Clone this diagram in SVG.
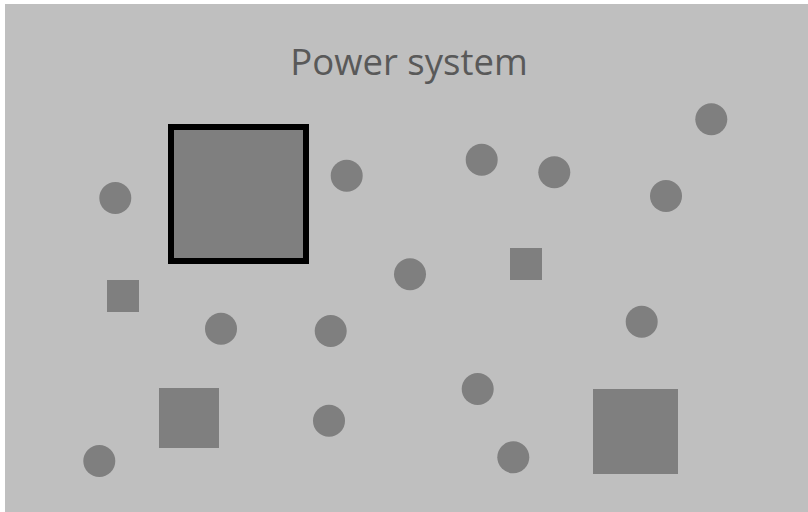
<svg xmlns="http://www.w3.org/2000/svg" width="808" height="512" viewBox="0 0 808 512">
<style>
.n{fill:#7f7f7f}
.t{font-family:"Open Sans","Noto Sans",sans-serif;font-size:36.5px;fill:#595959}
</style>
<rect x="5" y="4" width="803" height="508" fill="#bfbfbf"/>
<text class="t" x="409" y="75" text-anchor="middle">Power system</text>
<g id="main-square"><rect x="171" y="127" width="135" height="134" class="n" stroke="#000" stroke-width="6"/></g>
<g id="sq1"><rect x="107" y="280" width="32" height="32" class="n"/></g>
<g id="sq2"><rect x="510" y="248" width="32" height="32" class="n"/></g>
<g id="sq3"><rect x="159" y="388" width="60" height="60" class="n"/></g>
<g id="sq4"><rect x="593" y="389" width="85" height="85" class="n"/></g>
<g id="c1"><circle cx="115.3" cy="198" r="16" class="n"/></g>
<g id="c2"><circle cx="346.7" cy="175.7" r="16" class="n"/></g>
<g id="c3"><circle cx="481.7" cy="159.7" r="16" class="n"/></g>
<g id="c4"><circle cx="554.3" cy="172.3" r="16" class="n"/></g>
<g id="c5"><circle cx="711.3" cy="119.3" r="16" class="n"/></g>
<g id="c6"><circle cx="666" cy="196" r="16" class="n"/></g>
<g id="c7"><circle cx="410" cy="274.3" r="16" class="n"/></g>
<g id="c8"><circle cx="221" cy="328.7" r="16" class="n"/></g>
<g id="c9"><circle cx="330.7" cy="331" r="16" class="n"/></g>
<g id="c10"><circle cx="641.7" cy="321.7" r="16" class="n"/></g>
<g id="c11"><circle cx="477.7" cy="389" r="16" class="n"/></g>
<g id="c12"><circle cx="329" cy="420.7" r="16" class="n"/></g>
<g id="c13"><circle cx="99.3" cy="461" r="16" class="n"/></g>
<g id="c14"><circle cx="513.3" cy="457.3" r="16" class="n"/></g>
<g id="connectors"></g>
</svg>
